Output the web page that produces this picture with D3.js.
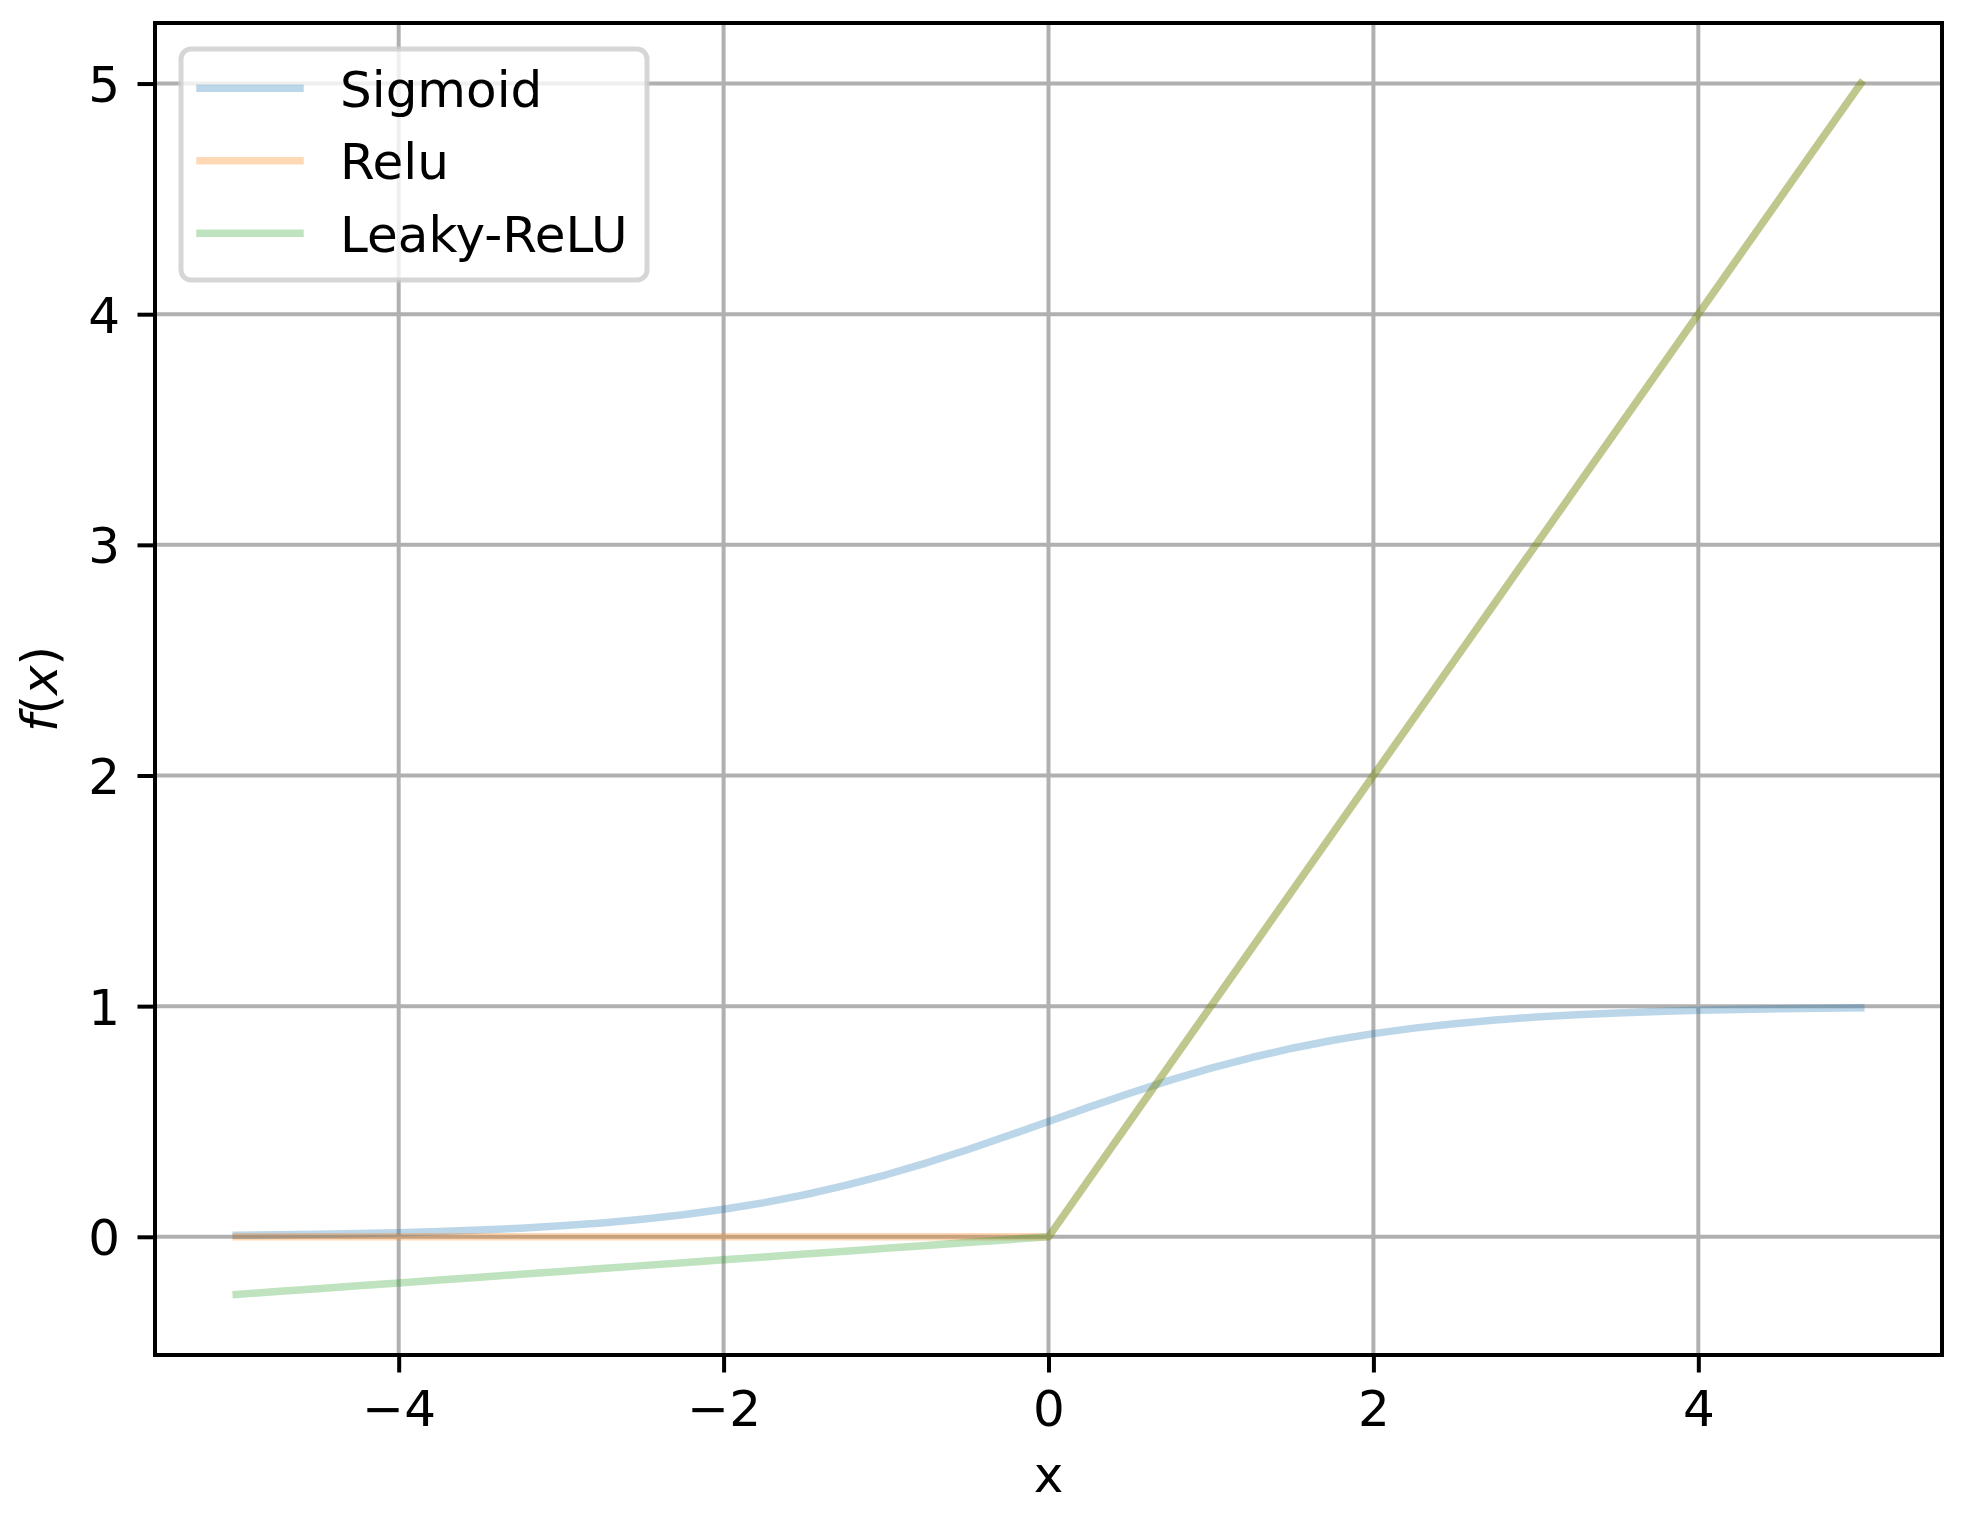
<!DOCTYPE html>
<html>
<head>
<meta charset="utf-8">
<script src="https://cdn.jsdelivr.net/npm/d3@7"></script>
<style>
  html, body { margin: 0; padding: 0; background: #ffffff; }
  svg { display: block; }
  text { font-family: "DejaVu Sans", sans-serif; fill: #000; }
</style>
</head>
<body>
<svg id="chart" width="1976" height="1520"></svg>
<script>
// ---- data ----
const xs = [-5, -4.75, -4.5, -4.25, -4, -3.75, -3.5, -3.25, -3, -2.75, -2.5, -2.25, -2, -1.75, -1.5, -1.25, -1, -0.75, -0.5, -0.25,
  0, 0.25, 0.5, 0.75, 1, 1.25, 1.5, 1.75, 2, 2.25, 2.5, 2.75, 3, 3.25, 3.5, 3.75, 4, 4.25, 4.5, 4.75, 5];
const sigmoidValues = [0.0067, 0.0086, 0.0110, 0.0141, 0.0180, 0.0230, 0.0293, 0.0373, 0.0474, 0.0601, 0.0759, 0.0953, 0.1192, 0.1480, 0.1824, 0.2227, 0.2689, 0.3208, 0.3775, 0.4378,
  0.5000, 0.5622, 0.6225, 0.6792, 0.7311, 0.7773, 0.8176, 0.8520, 0.8808, 0.9047, 0.9241, 0.9399, 0.9526, 0.9627, 0.9707, 0.9770, 0.9820, 0.9859, 0.9890, 0.9914, 0.9933];
const reluValues = [0, 0, 0, 0, 0, 0, 0, 0, 0, 0, 0, 0, 0, 0, 0, 0, 0, 0, 0, 0,
  0, 0.25, 0.5, 0.75, 1, 1.25, 1.5, 1.75, 2, 2.25, 2.5, 2.75, 3, 3.25, 3.5, 3.75, 4, 4.25, 4.5, 4.75, 5];
const leakyValues = [-0.25, -0.2375, -0.225, -0.2125, -0.2, -0.1875, -0.175, -0.1625, -0.15, -0.1375, -0.125, -0.1125, -0.1, -0.0875, -0.075, -0.0625, -0.05, -0.0375, -0.025, -0.0125,
  0, 0.25, 0.5, 0.75, 1, 1.25, 1.5, 1.75, 2, 2.25, 2.5, 2.75, 3, 3.25, 3.5, 3.75, 4, 4.25, 4.5, 4.75, 5];
const seriesNames = ["Sigmoid", "Relu", "Leaky-ReLU"];
const seriesColors = ["#1f77b4", "#ff7f0e", "#2ca02c"];
const xTicks = [-4, -2, 0, 2, 4];
const yTicks = [0, 1, 2, 3, 4, 5];
const xDomain = [-5.5, 5.5];
const yDomain = [-0.5125, 5.2625];
const xLabel = "x";

// ---- layout ----
const svg = d3.select("#chart");
const W = 1976, H = 1520;
const plot = { left: 155, right: 1942, top: 23, bottom: 1355 };
const FS = 50;
const tickLen = 17.5, tickPad = 17.5, spineW = 4, lineW = 7.5;

svg.append("rect").attr("width", W).attr("height", H).attr("fill", "#ffffff");

const x = d3.scaleLinear().domain(xDomain).range([plot.left, plot.right]);
const y = d3.scaleLinear().domain(yDomain).range([plot.bottom, plot.top]);

// grid
const grid = svg.append("g");
grid.selectAll(".gx").data(xTicks).join("line")
  .attr("x1", d => x(d)).attr("x2", d => x(d))
  .attr("y1", plot.top).attr("y2", plot.bottom)
  .attr("stroke", "#b0b0b0").attr("stroke-width", 4);
grid.selectAll(".gy").data(yTicks).join("line")
  .attr("y1", d => y(d)).attr("y2", d => y(d))
  .attr("x1", plot.left).attr("x2", plot.right)
  .attr("stroke", "#b0b0b0").attr("stroke-width", 4);

// series
const seriesValues = [sigmoidValues, reluValues, leakyValues];
const lineGen = d3.line().x(d => x(d[0])).y(d => y(d[1])).curve(d3.curveLinear);
seriesValues.forEach((vals, i) => {
  const pts = xs.map((xv, j) => [xv, vals[j]]);
  svg.append("path")
    .attr("d", lineGen(pts))
    .attr("fill", "none")
    .attr("stroke", seriesColors[i])
    .attr("stroke-opacity", 0.3)
    .attr("stroke-width", lineW)
    .attr("stroke-linecap", "square")
    .attr("stroke-linejoin", "round");
});

// axes
const fmt = d => (d < 0 ? "\u2212" + Math.abs(d) : String(d));
const xAxis = svg.append("g")
  .attr("transform", `translate(0,${plot.bottom})`)
  .call(d3.axisBottom(x).tickValues(xTicks).tickFormat(fmt).tickSize(tickLen).tickPadding(tickPad));
const yAxis = svg.append("g")
  .attr("transform", `translate(${plot.left},0)`)
  .call(d3.axisLeft(y).tickValues(yTicks).tickFormat(fmt).tickSize(tickLen).tickPadding(tickPad));
[xAxis, yAxis].forEach(g => {
  g.select(".domain").remove();
  g.selectAll(".tick line").attr("stroke", "#000").attr("stroke-width", spineW);
  g.selectAll(".tick text").attr("font-size", FS).attr("font-family", "DejaVu Sans").attr("fill", "#000");
});
yAxis.selectAll(".tick text").attr("dy", "0.36em");

// spines
svg.append("rect")
  .attr("x", plot.left).attr("y", plot.top)
  .attr("width", plot.right - plot.left).attr("height", plot.bottom - plot.top)
  .attr("fill", "none").attr("stroke", "#000").attr("stroke-width", spineW)
  .attr("stroke-linejoin", "miter");

// axis labels
svg.append("text")
  .attr("x", (plot.left + plot.right) / 2).attr("y", 1492)
  .attr("text-anchor", "middle").attr("font-size", FS)
  .text(xLabel);
const yl = svg.append("text")
  .attr("transform", `translate(57,${(plot.top + plot.bottom) / 2}) rotate(-90)`)
  .attr("text-anchor", "middle").attr("font-size", FS);
yl.append("tspan").attr("font-style", "italic").text("f");
yl.append("tspan").text("(");
yl.append("tspan").attr("font-style", "italic").text("x");
yl.append("tspan").text(")");

// legend
const leg = svg.append("g");
leg.append("rect")
  .attr("x", 181).attr("y", 49).attr("width", 466).attr("height", 231)
  .attr("rx", 10).attr("ry", 10)
  .attr("fill", "#ffffff").attr("fill-opacity", 0.8)
  .attr("stroke", "#cccccc").attr("stroke-opacity", 0.8).attr("stroke-width", 5);
seriesNames.forEach((name, i) => {
  const cy = 88.3 + i * 72.5;
  leg.append("line")
    .attr("x1", 200).attr("x2", 300).attr("y1", cy).attr("y2", cy)
    .attr("stroke", seriesColors[i]).attr("stroke-opacity", 0.3)
    .attr("stroke-width", lineW).attr("stroke-linecap", "square");
  leg.append("text")
    .attr("x", 340).attr("y", cy + 18.4)
    .attr("font-size", FS)
    .text(name);
});
</script>
</body>
</html>
